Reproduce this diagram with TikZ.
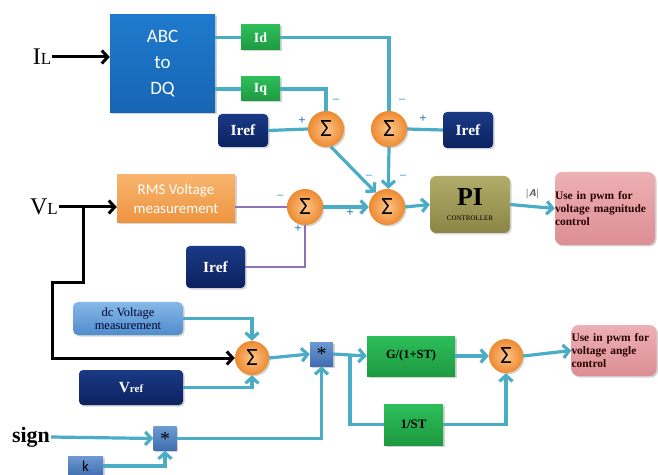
\documentclass[tikz,border=0pt]{standalone}
\usepackage{fontspec}
\setmainfont{Liberation Serif}
\newfontfamily\calib{Carlito}
\usetikzlibrary{arrows.meta,shadows}
\definecolor{lblue}{HTML}{4BACC6}
\definecolor{purp}{HTML}{8E72B5}
\definecolor{abcb}{HTML}{1F7ACD}
\definecolor{abcd}{HTML}{1665B3}
\definecolor{grn}{HTML}{2DBE5A}
\definecolor{grnd}{HTML}{1E9A40}
\definecolor{navy}{HTML}{1A3A85}
\definecolor{navyd}{HTML}{0C2260}
\definecolor{orgl}{HTML}{F8B56E}
\definecolor{orgd}{HTML}{EE9440}
\definecolor{sumin}{HTML}{FCC58A}
\definecolor{sumout}{HTML}{EE8A30}
\definecolor{olivel}{HTML}{B2AC6A}
\definecolor{olived}{HTML}{8C8646}
\definecolor{pinkl}{HTML}{EDB0B4}
\definecolor{pinkd}{HTML}{DC8E94}
\definecolor{dcl}{HTML}{86B8E8}
\definecolor{dcd}{HTML}{4F8CCB}
\definecolor{multl}{HTML}{6E9AD2}
\definecolor{multd}{HTML}{3F6DB0}
\definecolor{pmblue}{HTML}{2E75C0}
\begin{document}
\begin{tikzpicture}[x=1bp,y=-1bp,
  shd/.style={drop shadow={shadow xshift=1.5bp,shadow yshift=-1.5bp,opacity=0.35}},
  abcbox/.style={shd, top color=abcb, bottom color=abcd, text=white, font=\calib\fontsize{19}{26}\selectfont, align=center, inner sep=0pt},
  grbox/.style={shd, top color=grn, bottom color=grnd, inner sep=0pt},
  nvbox/.style={shd, rounded corners=4bp, top color=navy, bottom color=navyd, text=white, inner sep=0pt, font=\bfseries\fontsize{15.5}{15.5}\selectfont},
  sumnode/.style={circle, shd, inner color=sumin, outer color=sumout, minimum size=#1, inner sep=0pt, font=\calib\fontsize{25}{25}\selectfont},
  sumnode/.default=36bp,
  conn/.style={draw=lblue, line width=3.2bp},
  arr/.style={conn, -{Straight Barb[length=6bp,width=13bp]}},
  pconn/.style={draw=purp, line width=2.6bp},
  blk/.style={draw=black, line width=3bp},
  blkarr/.style={blk, -{Straight Barb[length=6bp,width=13bp]}},
  mn/.style={text=lblue, font=\bfseries\fontsize{12}{12}\selectfont, inner sep=0pt},
  pl/.style={text=pmblue, font=\bfseries\fontsize{13}{13}\selectfont, inner sep=0pt},
  pinkbox/.style={shd, rounded corners=7bp, top color=pinkl, bottom color=pinkd, inner sep=0pt, text=black!85!red, font=\bfseries\fontsize{11.5}{13}\selectfont, align=left, text width=#1},
  mult/.style={shd, top color=multl, bottom color=multd, minimum width=23bp, minimum height=24bp, inner sep=0pt, font=\fontsize{20}{20}\selectfont}
]
\useasboundingbox (0,0) rectangle (658,475);
\begin{scope}
\clip (0,0) rectangle (658,475);
% ---- top section
\node[abcbox, minimum width=105bp, minimum height=98bp] (ABC) at (162.5,64) {ABC\\to\\DQ};
\node[grbox, minimum width=39bp, minimum height=25bp, text=white, font=\bfseries\fontsize{14}{14}\selectfont] (Id) at (260.5,37.5) {Id};
\node[grbox, minimum width=39bp, minimum height=24bp, text=white, font=\bfseries\fontsize{14}{14}\selectfont] (Iq) at (260.5,89) {Iq};
\node[nvbox, minimum width=50bp, minimum height=33bp] (Iref1) at (243,130.5) {Iref};
\node[nvbox, minimum width=50bp, minimum height=36bp] (Iref2) at (468,130) {Iref};
\node[sumnode] (S1) at (326,129) {Σ};
\node[sumnode] (S2) at (389,129) {Σ};
\node[sumnode] (S3) at (387,207) {Σ};
\node[sumnode] (S4) at (305,207) {Σ};
\node[shd, top color=orgl, bottom color=orgd, minimum width=118bp, minimum height=48bp, inner sep=0pt, text=white, align=center, font=\calib\fontsize{15}{19}\selectfont] (RMS) at (176,198.5) {RMS Voltage\\measurement};
\node[nvbox, minimum width=59bp, minimum height=42bp] (Iref3) at (215.5,267) {Iref};
\node[shd, rounded corners=6bp, top color=olivel, bottom color=olived, minimum width=80bp, minimum height=57bp, inner sep=0pt, align=center] (PI) at (470,204.5) {\fontsize{26}{22}\selectfont\bfseries PI\\[3bp]\fontsize{7}{7}\selectfont CONTROLLER};
\node[pinkbox=100bp, minimum height=73bp] (P1) at (605,208.5) {Use in pwm for\\voltage magnitude\\control};
\node[font=\fontsize{24}{24}\selectfont, inner sep=1bp] (IL) at (42,57) {I\fontsize{17}{17}\selectfont L};
\node[font=\fontsize{24}{24}\selectfont, inner sep=1bp] (VL) at (44,207) {V\fontsize{17}{17}\selectfont L};
% ---- bottom section
\node[shd, rounded corners=5bp, top color=dcl, bottom color=dcd, minimum width=110bp, minimum height=33bp, inner sep=0pt, align=center, text=black!80!blue, font=\fontsize{12.5}{13.5}\selectfont] (dc) at (128,318.5) {dc Voltage\\measurement};
\node[nvbox, minimum width=104bp, minimum height=35bp] (Vref) at (131,387.5) {V\fontsize{11}{11}\selectfont ref};
\node[sumnode=34bp] (S5) at (252,358) {Σ};
\node[mult] (M1) at (321.5,354) {*};
\node[mult] (M2) at (165,438.5) {*};
\node[mult, minimum width=35bp, minimum height=20bp, font=\calib\fontsize{15}{15}\selectfont] (K) at (85.5,466) {k};
\node[font=\bfseries\fontsize{22}{22}\selectfont, inner sep=1bp] (sign) at (31,437) {sign};
\node[grbox, minimum width=88bp, minimum height=40bp, font=\bfseries\fontsize{12.5}{12.5}\selectfont] (G) at (411,356) {G/(1+ST)};
\node[grbox, minimum width=59bp, minimum height=41bp, font=\bfseries\fontsize{13}{13}\selectfont] (ST) at (413.5,424.5) {1/ST};
\node[sumnode=34bp] (S6) at (506,356) {Σ};
\node[pinkbox=85bp, minimum height=51bp] (P2) at (614,350.5) {Use in pwm for\\voltage angle\\control};
% ---- connectors top
\draw[conn] (ABC.east |- Id.west) -- (Id.west);
\draw[conn] (Id.east) -| (S2.north);
\draw[conn] (ABC.east |- Iq.west) -- (Iq.west);
\draw[conn] (Iq.east) -| (S1.north);
\draw[conn] (Iref1.east) -- (S1.west);
\draw[conn] (S2.east) -- (Iref2.west);
\draw[arr] (S1.-75) -- (S3.128);
\draw[arr] (S2.south) -- (S3.86);
\draw[pconn] (RMS.east |- S4.west) -- (S4.west);
\draw[pconn] (Iref3.east) -| (S4.south);
\draw[arr] (S4.east) -- (S3.west);
\draw[arr] (S3.east) -- (PI.west);
\draw[arr] (PI.east) -- node[above=3bp, font=\sffamily\bfseries\fontsize{10}{10}\selectfont, text=black!65] {|\textit{A}|} (P1.west);
\draw[blkarr] (IL.east) -- (IL.east -| ABC.west);
\draw[blkarr] (VL.east) -- (VL.east -| RMS.west);
\coordinate (br) at (83,207);
\coordinate (c1) at (52,283);
\draw[blkarr] (br) |- (c1) |- (S5.west);
% signs
\node[mn] at (336,101) {--};
\node[pl] at (302,121) {+};
\node[mn] at (402,101) {--};
\node[pl] at (423,119) {+};
\node[mn] at (369,177) {--};
\node[mn] at (403,177) {--};
\node[mn] at (280,197) {--};
\node[pl] at (298,229) {+};
\node[pl] at (350,213) {+};
% ---- connectors bottom
\draw[arr] (dc.east) -| (S5.north);
\draw[arr] (Vref.east) -| (S5.south);
\draw[arr] (S5.east) -- (M1.west);
\draw[arr] (sign.east) -- (M2.west);
\draw[arr] (K.east) -| (M2.south);
\draw[arr] (M2.east) -| (M1.south);
\draw[arr] (M1.east) -- (G.west);
\coordinate (br2) at (350,354);
\draw[conn] (br2) |- (ST.west);
\draw[arr] (G.east) -- (S6.west);
\draw[arr] (ST.east) -| (S6.south);
\draw[arr] (S6.east) -- (P2.west);
\end{scope}
\end{tikzpicture}
\end{document}
